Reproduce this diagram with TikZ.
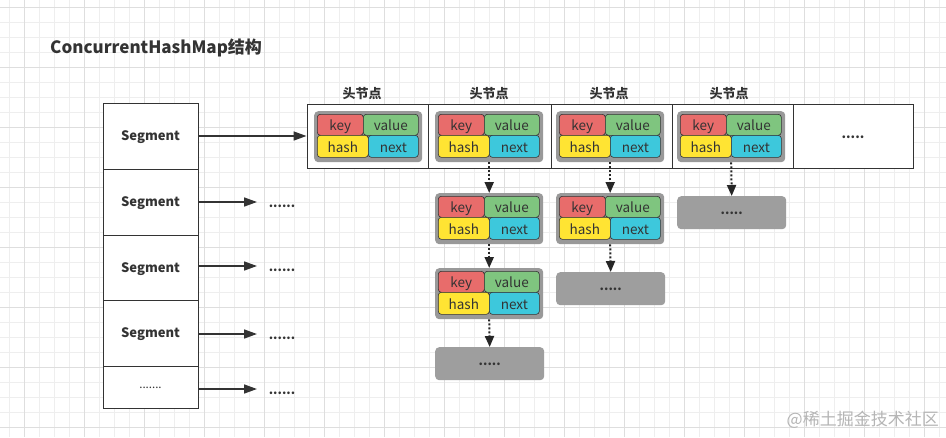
\documentclass[tikz,border=0pt]{standalone}
\usepackage{fontspec}
\setmainfont{Noto Sans CJK SC}
\usetikzlibrary{arrows.meta}
\definecolor{keyc}{HTML}{E86C6B}
\definecolor{valc}{HTML}{7FC57F}
\definecolor{hashc}{HTML}{FFE433}
\definecolor{nextc}{HTML}{3DC8DC}
\definecolor{outerc}{HTML}{999999}
\definecolor{gboxc}{HTML}{9E9E9E}
\definecolor{linec}{HTML}{333333}
\definecolor{txt}{HTML}{333333}
\definecolor{gminor}{HTML}{EEEEEE}
\definecolor{gmajor}{HTML}{DEDEDE}
\definecolor{wmark}{HTML}{B5B5B5}
\newcommand\myentry[3]{%
  \node[outerbox, anchor=north west] (#1) at (#2,#3) {};
  \node[cell, fill=keyc, minimum width=46pt, minimum height=21pt] (#1k) at ({#2+3},{#3+3}) {key};
  \node[cell, fill=valc, minimum width=55pt, minimum height=21pt] (#1v) at ({#2+49},{#3+3}) {value};
  \node[cell, fill=hashc, minimum width=51pt, minimum height=22pt] (#1h) at ({#2+3},{#3+24}) {hash};
  \node[cell, fill=nextc, minimum width=50pt, minimum height=22pt] (#1n) at ({#2+54},{#3+24}) {next};
}
\begin{document}
\begin{tikzpicture}[x=1pt,y=-1pt,
  gridminor/.style={draw=gminor, line width=0.8pt},
  gridmajor/.style={draw=gmajor, line width=0.8pt},
  seg/.style={draw=linec, line width=1pt, fill=white, minimum width=95pt, inner sep=0pt, text=txt, text height=9.5pt, text depth=1pt, font=\bfseries\fontsize{13}{14}\selectfont},
  tcell/.style={draw=linec, line width=1pt, fill=white, minimum height=64pt, inner sep=0pt, text=txt, font=\bfseries\fontsize{13}{14}\selectfont},
  hlabel/.style={inner sep=0pt, text=txt, font=\bfseries\fontsize{13}{14}\selectfont},
  dots/.style={inner sep=0pt, anchor=base, text=txt, font=\bfseries\fontsize{12.5}{14}\selectfont},
  outerbox/.style={fill=outerc, rounded corners=4pt, minimum width=108pt, minimum height=51pt, inner sep=0pt},
  cell/.style={draw=linec, line width=0.6pt, rounded corners=3pt, anchor=north west, inner sep=0pt, text=txt, text height=12.5pt, text depth=1pt, font=\fontsize{13.5}{14}\selectfont},
  gbox/.style={fill=gboxc, rounded corners=4pt, anchor=north west, minimum width=109pt, minimum height=33pt, inner sep=0pt, text=txt, font=\bfseries\fontsize{12.5}{14}\selectfont},
  arr/.style={draw=linec, line width=1.6pt, -{Triangle[length=13pt,width=9pt]}},
  darr/.style={draw=black!85, line width=2pt, dash pattern=on 2pt off 2pt, -{Triangle[length=11pt,width=9pt]}}
]
\useasboundingbox (0,0) rectangle (946,437);
\fill[white] (0,0) rectangle (946,437);
% grid
\foreach \i in {0,...,62} \draw[gridminor] ({9.3+15*\i},0) -- ({9.3+15*\i},437);
\foreach \j in {0,...,28} \draw[gridminor] (0,{7.7+15*\j}) -- (946,{7.7+15*\j});
\foreach \i in {0,...,15} \draw[gridmajor] ({24.3+60*\i},0) -- ({24.3+60*\i},437);
\foreach \j in {0,...,7} \draw[gridmajor] (0,{7.7+60*\j}) -- (946,{7.7+60*\j});
% title
\node[anchor=west, inner sep=0pt, text=txt, font=\bfseries\fontsize{17}{18}\selectfont] (title) at (50,48) {ConcurrentHashMap结构};
% segments
\node[seg, minimum height=66pt] (s1) at (150.5,136) {Segment};
\node[seg, minimum height=66pt] (s2) at (150.5,202) {Segment};
\node[seg, minimum height=65pt] (s3) at (150.5,268) {Segment};
\node[seg, minimum height=66pt] (s4) at (150.5,333.5) {Segment};
\node[seg, minimum height=42pt, font=\fontsize{11.5}{14}\selectfont, text height=2pt, text depth=0pt] (s5) at (150.5,387.5) {.......};
% table
\node[tcell, minimum width=121pt] (c1) at (367.5,136) {};
\node[tcell, minimum width=123pt] (c2) at (489.5,136) {};
\node[tcell, minimum width=121pt] (c3) at (611.5,136) {};
\node[tcell, minimum width=121pt] (c4) at (732.5,136) {};
\node[tcell, minimum width=120pt] (c5) at (853,136) {\raisebox{-5pt}{.....}};
\node[hlabel] (l1) at (362,94) {头节点};
\node[hlabel] (l2) at (489,94) {头节点};
\node[hlabel] (l3) at (609,94) {头节点};
\node[hlabel] (l4) at (729,94) {头节点};
% entries
\myentry{t1}{314}{111}
\myentry{t2}{435}{111}
\myentry{t3}{556}{111}
\myentry{t4}{677}{111}
\myentry{a1}{435}{193}
\myentry{a2}{435}{268}
\myentry{b1}{556}{193}
\node[gbox] (ga) at (435,347) {\raisebox{-4pt}{.....}};
\node[gbox] (gb) at (556,272) {\raisebox{-4pt}{.....}};
\node[gbox] (gc) at (677,196) {\raisebox{-4pt}{.....}};
% segment arrows
\draw[arr] (s1.east) -- (c1.west);
\coordinate (e2) at (257,202);
\coordinate (e3) at (257,266);
\coordinate (e4) at (257,334);
\coordinate (e5) at (257,389);
\draw[arr] (s2.east) -- (e2);
\draw[arr] (s3.east |- e3) -- (e3);
\draw[arr] (s4.east |- e4) -- (e4);
\draw[arr] (s5.east |- e5) -- (e5);
\node[dots] (d2) at (282,207) {......};
\node[dots] (d3) at (282,271) {......};
\node[dots] (d4) at (282,339) {......};
\node[dots] (d5) at (282,394) {......};
% chain arrows
\draw[darr] (t2.south) -- (a1.north);
\draw[darr] (a1.south) -- (a2.north);
\draw[darr] (a2.south) -- (ga.north);
\draw[darr] (t3.south) -- (b1.north);
\draw[darr] (b1.south) -- (gb.north);
\draw[darr] (t4.south) -- (gc.north);
% watermark
\node[anchor=east, inner sep=0pt, text=wmark, font=\fontsize{17}{18}\selectfont] (wm) at (939,420) {@稀土掘金技术社区};
\end{tikzpicture}
\end{document}
